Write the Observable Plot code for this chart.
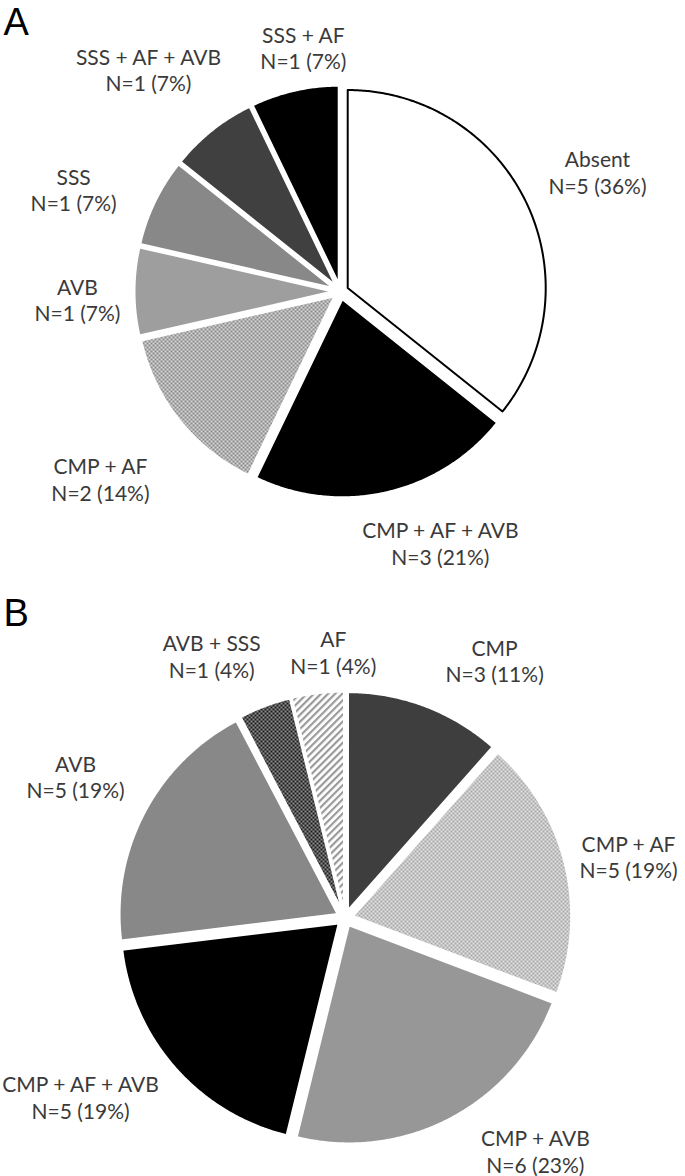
<!DOCTYPE html>
<html>
<head>
<meta charset="utf-8">
<script src="https://cdn.jsdelivr.net/npm/d3@7"></script>
<script src="https://cdn.jsdelivr.net/npm/@observablehq/plot@0.6"></script>
<style>
  html, body { margin: 0; padding: 0; background: #fff; }
  #chart svg { display: block; }
</style>
</head>
<body>
<svg width="0" height="0" style="position:absolute">
  <defs>
    <pattern id="checkMid" width="4" height="4" patternUnits="userSpaceOnUse">
      <rect width="4" height="4" fill="#d6d6d6"/>
      <rect width="2" height="2" fill="#8a8a8a"/>
      <rect x="2" y="2" width="2" height="2" fill="#8a8a8a"/>
    </pattern>
    <pattern id="fineGray" width="2" height="2" patternUnits="userSpaceOnUse">
      <rect width="2" height="2" fill="#959595"/>
      <rect width="1" height="1" fill="#7a7a7a"/>
      <rect x="1" y="1" width="1" height="1" fill="#7a7a7a"/>
    </pattern>
    <pattern id="vertDark" width="2" height="2" patternUnits="userSpaceOnUse">
      <rect width="1" height="2" fill="#242424"/>
      <rect x="1" width="1" height="2" fill="#585858"/>
    </pattern>
    <pattern id="checkLight" width="4" height="4" patternUnits="userSpaceOnUse">
      <rect width="4" height="4" fill="#e2e2e2"/>
      <rect width="2" height="2" fill="#a8a8a8"/>
      <rect x="2" y="2" width="2" height="2" fill="#a8a8a8"/>
    </pattern>
    <pattern id="checkDark" width="4" height="4" patternUnits="userSpaceOnUse">
      <rect width="4" height="4" fill="#8c8c8c"/>
      <rect width="2" height="2" fill="#1c1c1c"/>
      <rect x="2" y="2" width="2" height="2" fill="#1c1c1c"/>
    </pattern>
    <pattern id="hatch" width="5" height="5" patternUnits="userSpaceOnUse" patternTransform="rotate(45)">
      <rect width="5" height="5" fill="#ffffff"/>
      <rect width="2.2" height="5" fill="#9a9a9a"/>
    </pattern>
  </defs>
</svg>
<div id="chart"></div>
<script>
// ---------- Panel A data ----------
const categoriesA = ["Absent", "CMP + AF + AVB", "CMP + AF", "AVB", "SSS", "SSS + AF + AVB", "SSS + AF"];
const countsA = [5, 3, 2, 1, 1, 1, 1];
const percentsA = ["36%", "21%", "14%", "7%", "7%", "7%", "7%"];

// ---------- Panel B data ----------
const categoriesB = ["CMP", "CMP + AF", "CMP + AVB", "CMP + AF + AVB", "AVB", "AVB + SSS", "AF"];
const countsB = [3, 5, 6, 5, 5, 1, 1];
const percentsB = ["11%", "19%", "23%", "19%", "19%", "4%", "4%"];

// ---------- Styles ----------
const fillsA = ["#ffffff", "#000000", "url(#checkMid)", "#9e9e9e", "url(#fineGray)", "#404040", "#000000"];
const strokesA = ["#000000", "#ffffff", "#ffffff", "#ffffff", "#ffffff", "#ffffff", "#ffffff"];
const fillsB = ["url(#vertDark)", "url(#checkLight)", "#979797", "#000000", "url(#fineGray)", "url(#checkDark)", "url(#hatch)"];
const strokesB = ["#ffffff", "#ffffff", "#ffffff", "#ffffff", "#ffffff", "#ffffff", "#ffffff"];

// ---------- Label layout (angle shift from slice bisector in degrees, radius as multiple of pie radius) ----------
const labelShiftA = [0.8, -8.8, 0.6, -1.7, -4.8, -2.3, 4.2];
const labelRadiusA = [1.431, 1.367, 1.538, 1.329, 1.443, 1.482, 1.246];
const labelShiftB = [9.4, 1.6, -11.6, 7.5, 0, -6.2, 4.4];
const labelRadiusB = [1.366, 1.331, 1.379, 1.464, 1.396, 1.349, 1.221];

const W = 685, H = 588;
const FONT = "Lato, 'Open Sans', sans-serif";
const FS = 21;
const LH = 1.27;

function piePanel({letter, letterDy, categories, counts, percents, fills, strokes, shifts, radii, cx, cy, r, explode}) {
  const total = d3.sum(counts);
  let acc = 0;
  const slices = categories.map((name, i) => {
    const a0 = acc / total * 2 * Math.PI;
    acc += counts[i];
    const a1 = acc / total * 2 * Math.PI;
    return {name, i, a0, a1, mid: (a0 + a1) / 2, count: counts[i], pct: percents[i], fill: fills[i], stroke: strokes[i]};
  });
  const e = explode / r;
  const pts = [];
  for (const s of slices) {
    const ox = e * Math.sin(s.mid), oy = -e * Math.cos(s.mid);
    pts.push({name: s.name, x: ox, y: oy, fill: s.fill, stroke: s.stroke});
    const n = Math.max(4, Math.ceil((s.a1 - s.a0) / (Math.PI / 360)));
    for (let k = 0; k <= n; k++) {
      const a = s.a0 + (s.a1 - s.a0) * k / n;
      pts.push({name: s.name, x: ox + Math.sin(a), y: oy - Math.cos(a), fill: s.fill, stroke: s.stroke});
    }
  }
  const labels = slices.map(s => {
    const a = s.mid + shifts[s.i] * Math.PI / 180;
    const rho = radii[s.i];
    return {x: rho * Math.sin(a), y: -rho * Math.cos(a), text: `${s.name}\nN=${s.count} (${s.pct})`};
  });
  return Plot.plot({
    width: W, height: H, margin: 0,
    x: {domain: [-cx / r, (W - cx) / r], range: [0, W], axis: null},
    y: {domain: [-cy / r, (H - cy) / r], range: [0, H], axis: null},
    color: {type: "identity"},
    style: {background: "#fff"},
    marks: [
      Plot.line(pts, {x: "x", y: "y", z: "name", fill: "fill", stroke: "stroke", strokeWidth: 2, curve: "linear-closed", strokeLinejoin: "round"}),
      Plot.text(labels, {x: "x", y: "y", text: "text", fontSize: FS, fontFamily: FONT, lineHeight: LH, lineAnchor: "middle", textAnchor: "middle", fill: "#3a3a3a"}),
      Plot.text([letter], {frameAnchor: "top-left", text: d => d, dx: 3, dy: letterDy, fontSize: 38, fontFamily: "'Liberation Sans', Arial, sans-serif", lineAnchor: "top", textAnchor: "start", fill: "#000"})
    ]
  });
}

const chart = document.getElementById("chart");
chart.append(piePanel({letter: "A", letterDy: 8, categories: categoriesA, counts: countsA, percents: percentsA, fills: fillsA, strokes: strokesA, shifts: labelShiftA, radii: labelRadiusA, cx: 340, cy: 291, r: 198, explode: 8}));
chart.append(piePanel({letter: "B", letterDy: 11, categories: categoriesB, counts: countsB, percents: percentsB, fills: fillsB, strokes: strokesB, shifts: labelShiftB, radii: labelRadiusB, cx: 344.5, cy: 329.5, r: 218, explode: 8.4}));
</script>
</body>
</html>
